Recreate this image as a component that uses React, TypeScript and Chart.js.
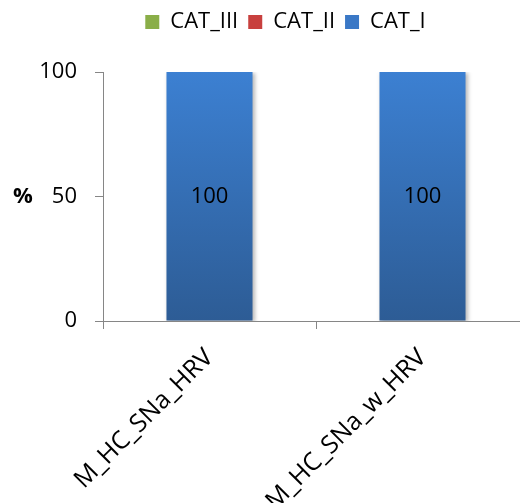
import React, { useEffect, useRef } from "react";
import { Chart, registerables } from "chart.js";

Chart.register(...registerables);

const categories = ["M_HC_SNa_HRV", "M_HC_SNa_w_HRV"];
const seriesNames = ["CAT_I", "CAT_II", "CAT_III"];
const catI = [100, 100];
const catII = [0, 0];
const catIII = [0, 0];
const yMin = 0;
const yMax = 100;
const yStep = 50;
const yAxisLabel = "%";

const FONT = "'Open Sans', sans-serif";
const AXIS = "#868686";
const legendColors: Record<string, string> = {
  CAT_I: "#3A78C6",
  CAT_II: "#C8403E",
  CAT_III: "#8AAE48",
};

const CANVAS_W = 529;
const CANVAS_H = 503;

export default function App() {
  const ref = useRef<HTMLCanvasElement>(null);

  useEffect(() => {
    const canvas = ref.current!;
    const grad = (top: string, bottom: string, fallback: string) => (ctx: any) => {
      const chart = ctx.chart;
      const area = chart.chartArea;
      if (!area) return fallback;
      const g = chart.ctx.createLinearGradient(0, area.top, 0, area.bottom);
      g.addColorStop(0, top);
      g.addColorStop(1, bottom);
      return g;
    };

    const legendTweak = {
      id: "legendTweak",
      beforeInit(chart: any) {
        const lg = chart.legend;
        if (!lg || lg.__tweaked) return;
        lg.__tweaked = true;
        const fit = lg.fit;
        lg.fit = function () {
          fit.call(this);
          this.height += 30;
        };
        const draw = lg.draw;
        lg.draw = function () {
          this.ctx.save();
          this.ctx.translate(21, 1);
          draw.call(this);
          this.ctx.restore();
        };
      },
    };

    const barShadow = {
      id: "barShadow",
      beforeDatasetDraw(chart: any) {
        const c = chart.ctx;
        c.save();
        c.shadowColor = "rgba(0,0,0,0.28)";
        c.shadowBlur = 4;
        c.shadowOffsetX = 2;
        c.shadowOffsetY = 1;
      },
      afterDatasetDraw(chart: any) {
        chart.ctx.restore();
      },
    };

    const valueLabels = {
      id: "valueLabels",
      afterDatasetsDraw(chart: any) {
        const c = chart.ctx;
        c.save();
        c.font = `22px ${FONT}`;
        c.fillStyle = "#000";
        c.textAlign = "center";
        c.textBaseline = "middle";
        chart.data.datasets.forEach((ds: any, di: number) => {
          const meta = chart.getDatasetMeta(di);
          meta.data.forEach((el: any, i: number) => {
            const v = ds.data[i];
            if (!v) return;
            c.fillText(String(v), el.x, (el.y + el.base) / 2);
          });
        });
        c.restore();
      },
    };

    const yTitle = {
      id: "yTitle",
      afterDraw(chart: any) {
        const c = chart.ctx;
        const y = chart.scales.y.getPixelForValue((yMin + yMax) / 2);
        c.save();
        c.font = `bold 22px ${FONT}`;
        c.fillStyle = "#000";
        c.textAlign = "center";
        c.textBaseline = "middle";
        c.fillText(yAxisLabel, 23, y);
        c.restore();
      },
    };

    const chart = new Chart(canvas, {
      type: "bar",
      data: {
        labels: categories,
        datasets: [
          {
            label: seriesNames[0],
            data: catI,
            backgroundColor: grad("#3C80D2", "#2D5C95", "#3A78C6"),
            borderWidth: 0,
          },
          {
            label: seriesNames[1],
            data: catII,
            backgroundColor: grad("#D04A47", "#A8302E", "#C8403E"),
            borderWidth: 0,
          },
          {
            label: seriesNames[2],
            data: catIII,
            backgroundColor: grad("#9CC159", "#76943A", "#8AAE48"),
            borderWidth: 0,
          },
        ],
      },
      options: {
        responsive: false,
        maintainAspectRatio: false,
        animation: false,
        layout: { padding: 0 },
        datasets: {
          bar: { categoryPercentage: 1, barPercentage: 0.404 },
        },
        plugins: {
          tooltip: { enabled: false },
          legend: {
            position: "top",
            reverse: true,
            labels: {
              boxWidth: 14,
              boxHeight: 14,
              padding: 10,
              color: "#000",
              font: { family: FONT, size: 22 },
              generateLabels(ch: any) {
                const items = Chart.defaults.plugins.legend.labels.generateLabels(ch);
                return items.map((it: any) => ({
                  ...it,
                  fillStyle: legendColors[it.text],
                  strokeStyle: legendColors[it.text],
                  lineWidth: 0,
                }));
              },
            },
          },
        },
        scales: {
          x: {
            stacked: true,
            offset: true,
            afterFit(scale: any) {
              scale.height = 182;
            },
            grid: {
              offset: true,
              drawOnChartArea: false,
              drawTicks: true,
              tickLength: 8,
              color: AXIS,
            },
            border: { color: AXIS, width: 1 },
            ticks: {
              autoSkip: false,
              minRotation: 45,
              maxRotation: 45,
              padding: 14,
              color: "#000",
              font: { family: FONT, size: 25 },
            },
          },
          y: {
            stacked: true,
            min: yMin,
            max: yMax,
            afterFit(scale: any) {
              scale.width = 103;
            },
            grid: {
              drawOnChartArea: false,
              drawTicks: true,
              tickLength: 8,
              color: AXIS,
            },
            border: { color: AXIS, width: 1 },
            ticks: {
              stepSize: yStep,
              padding: 18,
              color: "#000",
              font: { family: FONT, size: 22 },
            },
          },
        },
      },
      plugins: [legendTweak, barShadow, valueLabels, yTitle],
    });

    return () => chart.destroy();
  }, []);

  return (
    <div
      style={{
        position: "fixed",
        left: 0,
        top: 0,
        width: 520,
        height: 503,
        overflow: "hidden",
        background: "#fff",
      }}
    >
      <canvas ref={ref} width={CANVAS_W} height={CANVAS_H} style={{ display: "block" }} />
    </div>
  );
}
